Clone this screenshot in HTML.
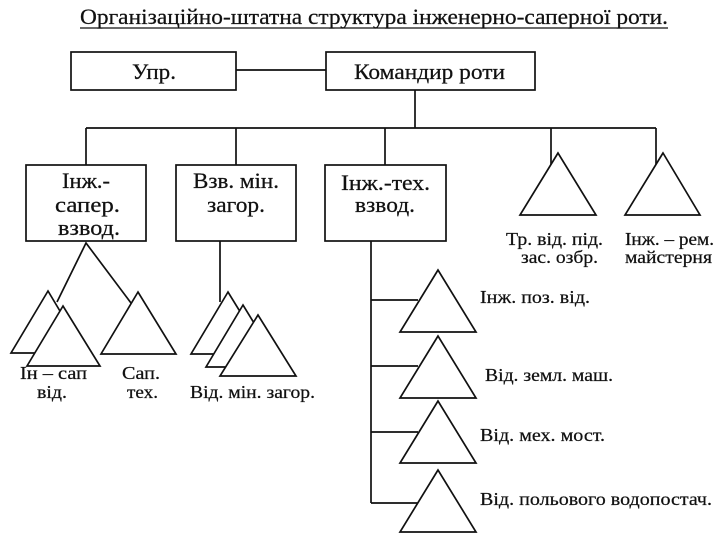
<!DOCTYPE html>
<html><head><meta charset="utf-8"><style>
body{margin:0;background:#fff;}
svg{display:block;}
text{font-family:"Liberation Serif",serif;fill:#111;stroke:#111;stroke-width:0.25;}
</style></head><body>
<svg width="720" height="540" viewBox="0 0 720 540" xmlns="http://www.w3.org/2000/svg">
<g stroke="#111" stroke-width="1.7" fill="none">
<line x1="80" y1="28" x2="668" y2="28" stroke-width="1.2"/>
<rect x="71" y="52" width="165" height="38" fill="#fff"/>
<rect x="326" y="52" width="209" height="38" fill="#fff"/>
<line x1="236" y1="70" x2="326" y2="70"/>
<line x1="415" y1="90" x2="415" y2="128"/>
<line x1="86" y1="128" x2="656" y2="128"/>
<line x1="86" y1="128" x2="86" y2="165"/>
<line x1="236" y1="128" x2="236" y2="165"/>
<line x1="385" y1="128" x2="385" y2="165"/>
<line x1="551" y1="128" x2="551" y2="165"/>
<line x1="656" y1="128" x2="656" y2="165"/>
<rect x="26" y="165" width="120" height="76" fill="#fff"/>
<rect x="176" y="165" width="120" height="76" fill="#fff"/>
<rect x="325" y="165" width="121" height="76" fill="#fff"/>
<polyline points="57,302 86,243 131,303"/>
<polygon points="48,291 11,353 85,353" fill="#fff"/>
<polygon points="63,306 27,366 100,366" fill="#fff"/>
<polygon points="138,292 101,354 176,354" fill="#fff"/>
<line x1="220" y1="241" x2="220" y2="302"/>
<polygon points="228,292 191,354 266,354" fill="#fff"/>
<polygon points="243,305 206,367 281,367" fill="#fff"/>
<polygon points="258,315 220,376 296,376" fill="#fff"/>
<line x1="371" y1="241" x2="371" y2="503"/>
<line x1="371" y1="300" x2="418" y2="300"/>
<line x1="371" y1="366" x2="418" y2="366"/>
<line x1="371" y1="432" x2="418" y2="432"/>
<line x1="371" y1="503" x2="418" y2="503"/>
<polygon points="438,270 400,332 476,332" fill="#fff"/>
<polygon points="438,336 400,398 476,398" fill="#fff"/>
<polygon points="438,401 400,463 476,463" fill="#fff"/>
<polygon points="438,470 400,532 476,532" fill="#fff"/>
<polygon points="558,153 520,215 596,215" fill="#fff"/>
<polygon points="663,153 625,215 700,215" fill="#fff"/>
</g>
<g lengthAdjust="spacingAndGlyphs">
<text x="80" y="24" font-size="22" textLength="588" lengthAdjust="spacingAndGlyphs">Організаційно-штатна структура інженерно-саперної роти.</text>
<text x="132" y="79" font-size="22" textLength="44" lengthAdjust="spacingAndGlyphs">Упр.</text>
<text x="354" y="79" font-size="22" textLength="151" lengthAdjust="spacingAndGlyphs">Командир роти</text>
<text x="62" y="188" font-size="22" textLength="48" lengthAdjust="spacingAndGlyphs">Інж.-</text>
<text x="55" y="212" font-size="22" textLength="65" lengthAdjust="spacingAndGlyphs">сапер.</text>
<text x="58" y="235" font-size="22" textLength="62" lengthAdjust="spacingAndGlyphs">взвод.</text>
<text x="193" y="188" font-size="22" textLength="86" lengthAdjust="spacingAndGlyphs">Взв. мін.</text>
<text x="207" y="212" font-size="22" textLength="58" lengthAdjust="spacingAndGlyphs">загор.</text>
<text x="341" y="190" font-size="22" textLength="89" lengthAdjust="spacingAndGlyphs">Інж.-тех.</text>
<text x="355" y="212" font-size="22" textLength="60" lengthAdjust="spacingAndGlyphs">взвод.</text>
<text x="20" y="379" font-size="18" textLength="67" lengthAdjust="spacingAndGlyphs">Ін – сап</text>
<text x="37" y="398" font-size="18" textLength="30" lengthAdjust="spacingAndGlyphs">від.</text>
<text x="122" y="379" font-size="18" textLength="38" lengthAdjust="spacingAndGlyphs">Сап.</text>
<text x="127" y="398" font-size="18" textLength="31" lengthAdjust="spacingAndGlyphs">тех.</text>
<text x="190" y="398" font-size="18" textLength="125" lengthAdjust="spacingAndGlyphs">Від. мін. загор.</text>
<text x="506" y="245" font-size="18" textLength="97" lengthAdjust="spacingAndGlyphs">Тр. від. під.</text>
<text x="521" y="263" font-size="18" textLength="77" lengthAdjust="spacingAndGlyphs">зас. озбр.</text>
<text x="625" y="245" font-size="18" textLength="89" lengthAdjust="spacingAndGlyphs">Інж. – рем.</text>
<text x="625" y="263" font-size="18" textLength="87" lengthAdjust="spacingAndGlyphs">майстерня</text>
<text x="480" y="303" font-size="18" textLength="110" lengthAdjust="spacingAndGlyphs">Інж. поз. від.</text>
<text x="485" y="381" font-size="18" textLength="128" lengthAdjust="spacingAndGlyphs">Від. земл. маш.</text>
<text x="480" y="441" font-size="18" textLength="125" lengthAdjust="spacingAndGlyphs">Від. мех. мост.</text>
<text x="480" y="505" font-size="18" textLength="232" lengthAdjust="spacingAndGlyphs">Від. польового водопостач.</text>
</g>
</svg>
</body></html>
